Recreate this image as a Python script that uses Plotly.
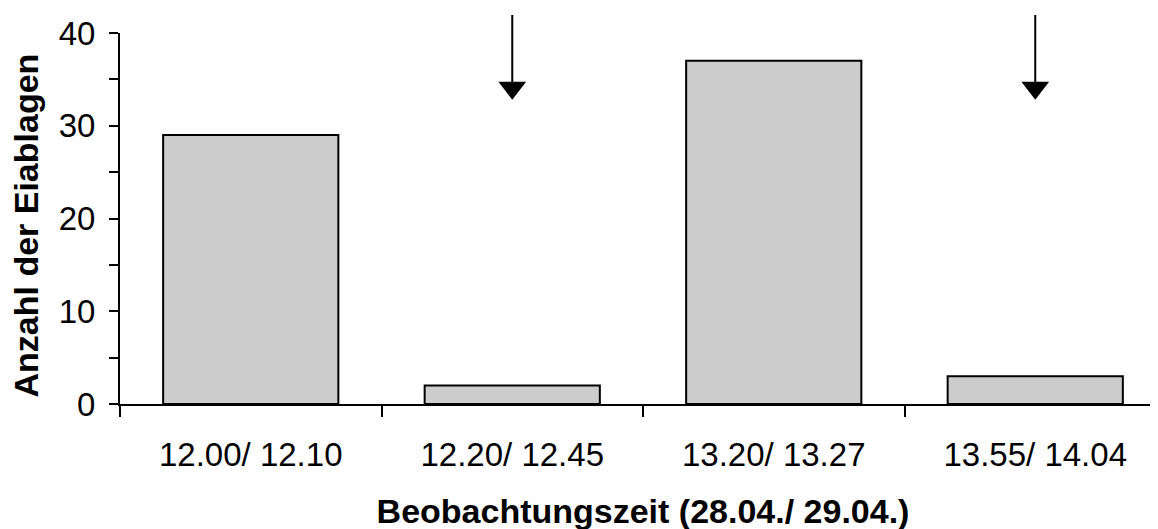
import plotly.graph_objects as go

categories = ["12.00/ 12.10", "12.20/ 12.45", "13.20/ 13.27", "13.55/ 14.04"]
values = [29, 2, 37, 3]
arrow_categories = ["12.20/ 12.45", "13.55/ 14.04"]
arrow_top = 42.1
arrow_head = 34.1
y_ticks = [0, 10, 20, 30, 40]

FONT = "Liberation Sans, Arial, sans-serif"

fig = go.Figure()
fig.add_trace(go.Bar(
    x=categories, y=values,
    marker=dict(color="#cccccc", line=dict(color="black", width=2)),
    width=0.67, showlegend=False, hoverinfo="skip",
))
fig.add_trace(go.Scatter(
    x=arrow_categories, y=[arrow_head] * len(arrow_categories), mode="markers",
    marker=dict(symbol="triangle-down", size=24, color="black", line=dict(width=0)),
    cliponaxis=False, showlegend=False, hoverinfo="skip",
))
for c in arrow_categories:
    fig.add_annotation(
        x=c, y=arrow_head, ax=c, ay=arrow_top, xref="x", yref="y", axref="x", ayref="y",
        text="", showarrow=True, arrowhead=0, arrowwidth=2, arrowcolor="black",
        standoff=0, startstandoff=0,
    )

# y-axis title as a rotated annotation for precise placement
fig.add_annotation(
    text="<b>Anzahl der Eiablagen</b>", textangle=-90,
    xref="paper", yref="paper", x=0, y=0.5, xanchor="center", yanchor="middle",
    xshift=-95, yshift=-7, showarrow=False,
    font=dict(family=FONT, size=34, color="black"),
)

fig.update_layout(
    width=1158, height=529,
    margin=dict(l=112, r=0, t=25, b=133),
    paper_bgcolor="white", plot_bgcolor="white",
    font=dict(family=FONT, size=33, color="black"),
    xaxis=dict(
        type="category", range=[-0.5, 3.5],
        showline=True, linecolor="black", linewidth=2,
        ticks="outside", tickson="boundaries", ticklen=11, tickwidth=2, tickcolor="black",
        showgrid=False, zeroline=False, ticklabelstandoff=20,
        tickfont=dict(family=FONT, size=33),
        title=dict(text="<b>Beobachtungszeit (28.04./ 29.04.)</b>",
                   font=dict(family=FONT, size=34), standoff=28),
    ),
    yaxis=dict(
        range=[0, 40], tickvals=y_ticks,
        showline=True, linecolor="black", linewidth=2,
        ticks="outside", ticklen=9, tickwidth=2, tickcolor="black",
        minor=dict(dtick=5, ticks="outside", ticklen=9, tickwidth=2, tickcolor="black", showgrid=False),
        showgrid=False, zeroline=False, ticklabelstandoff=7,
        tickfont=dict(family=FONT, size=33),
    ),
)

fig.write_html("out.html")
